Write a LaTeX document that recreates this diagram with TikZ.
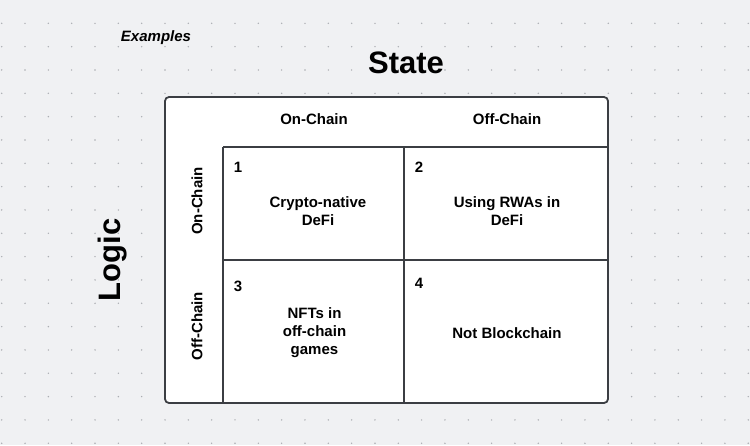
\documentclass[tikz,border=0pt]{standalone}
\usepackage{fontspec}
\setmainfont{Liberation Sans}
\usepackage{tikz}
\usetikzlibrary{positioning}
\definecolor{bggray}{HTML}{F0F1F3}
\definecolor{dotgray}{HTML}{ABADB2}
\definecolor{linegray}{HTML}{3B3E43}

\begin{document}
\begin{tikzpicture}[x=1pt, y=-1pt,
      celltext/.style={font=\fontsize{15}{18}\selectfont\bfseries, text=black, align=center, inner sep=0pt},
      title/.style={font=\fontsize{31}{36}\selectfont\bfseries, text=black, inner sep=0pt},
      num/.style={font=\fontsize{15}{18}\selectfont\bfseries, text=black, inner sep=0pt},
      grid line/.style={draw=linegray, line width=1.8pt}]
   \useasboundingbox (0,0) rectangle (750,445);
   \fill[bggray] (0,0) rectangle (750,445);
   % dotted background
   \foreach \i in {0,...,32}{
      \foreach \j in {1,...,19}{
         \fill[dotgray] (1.7+23.33*\i, 23.33*\j) circle (0.8);
      }
   }
   % matrix
   \draw[grid line, fill=white, rounded corners=4pt] (165,97) rectangle (608,403);
   \coordinate (tl) at (223,147);
   \coordinate (tm) at (404,147);
   \coordinate (tr) at (608,147);
   \coordinate (ml) at (223,260);
   \coordinate (mr) at (608,260);
   \coordinate (bl) at (223,403);
   \coordinate (bm) at (404,403);
   \draw[grid line] (tl) -- (tr);
   \draw[grid line] (ml) -- (mr);
   \draw[grid line] (tl) -- (bl);
   \draw[grid line] (tm) -- (bm);
   % titles
   \node[celltext, font=\fontsize{15}{18}\selectfont\bfseries\itshape] (examples) at (156,38) {Examples};
   \node[title] (state) at (406,63) {State};
   \node[title, rotate=90] (logic) at (113,260) {Logic};
   % headers
   \node[celltext] (s-on) at (314,119) {On-Chain};
   \node[celltext] (s-off) at (507,119) {Off-Chain};
   \node[celltext, rotate=90] (l-on) at (197,201) {On-Chain};
   \node[celltext, rotate=90] (l-off) at (197,326) {Off-Chain};
   % cells
   \node[num] (n1) at (238,167) {1};
   \node[num] (n2) at (419,167) {2};
   \node[num] (n3) at (238,286) {3};
   \node[num] (n4) at (419,283) {4};
   \node[celltext] (c1) at (318,211) {Crypto-native\\DeFi};
   \node[celltext] (c2) at (507,211) {Using RWAs in\\DeFi};
   \node[celltext] (c3) at (314.5,333) {NFTs in\\off-chain\\games};
   \node[celltext] (c4) at (507,333) {Not Blockchain};
\end{tikzpicture}
\end{document}
